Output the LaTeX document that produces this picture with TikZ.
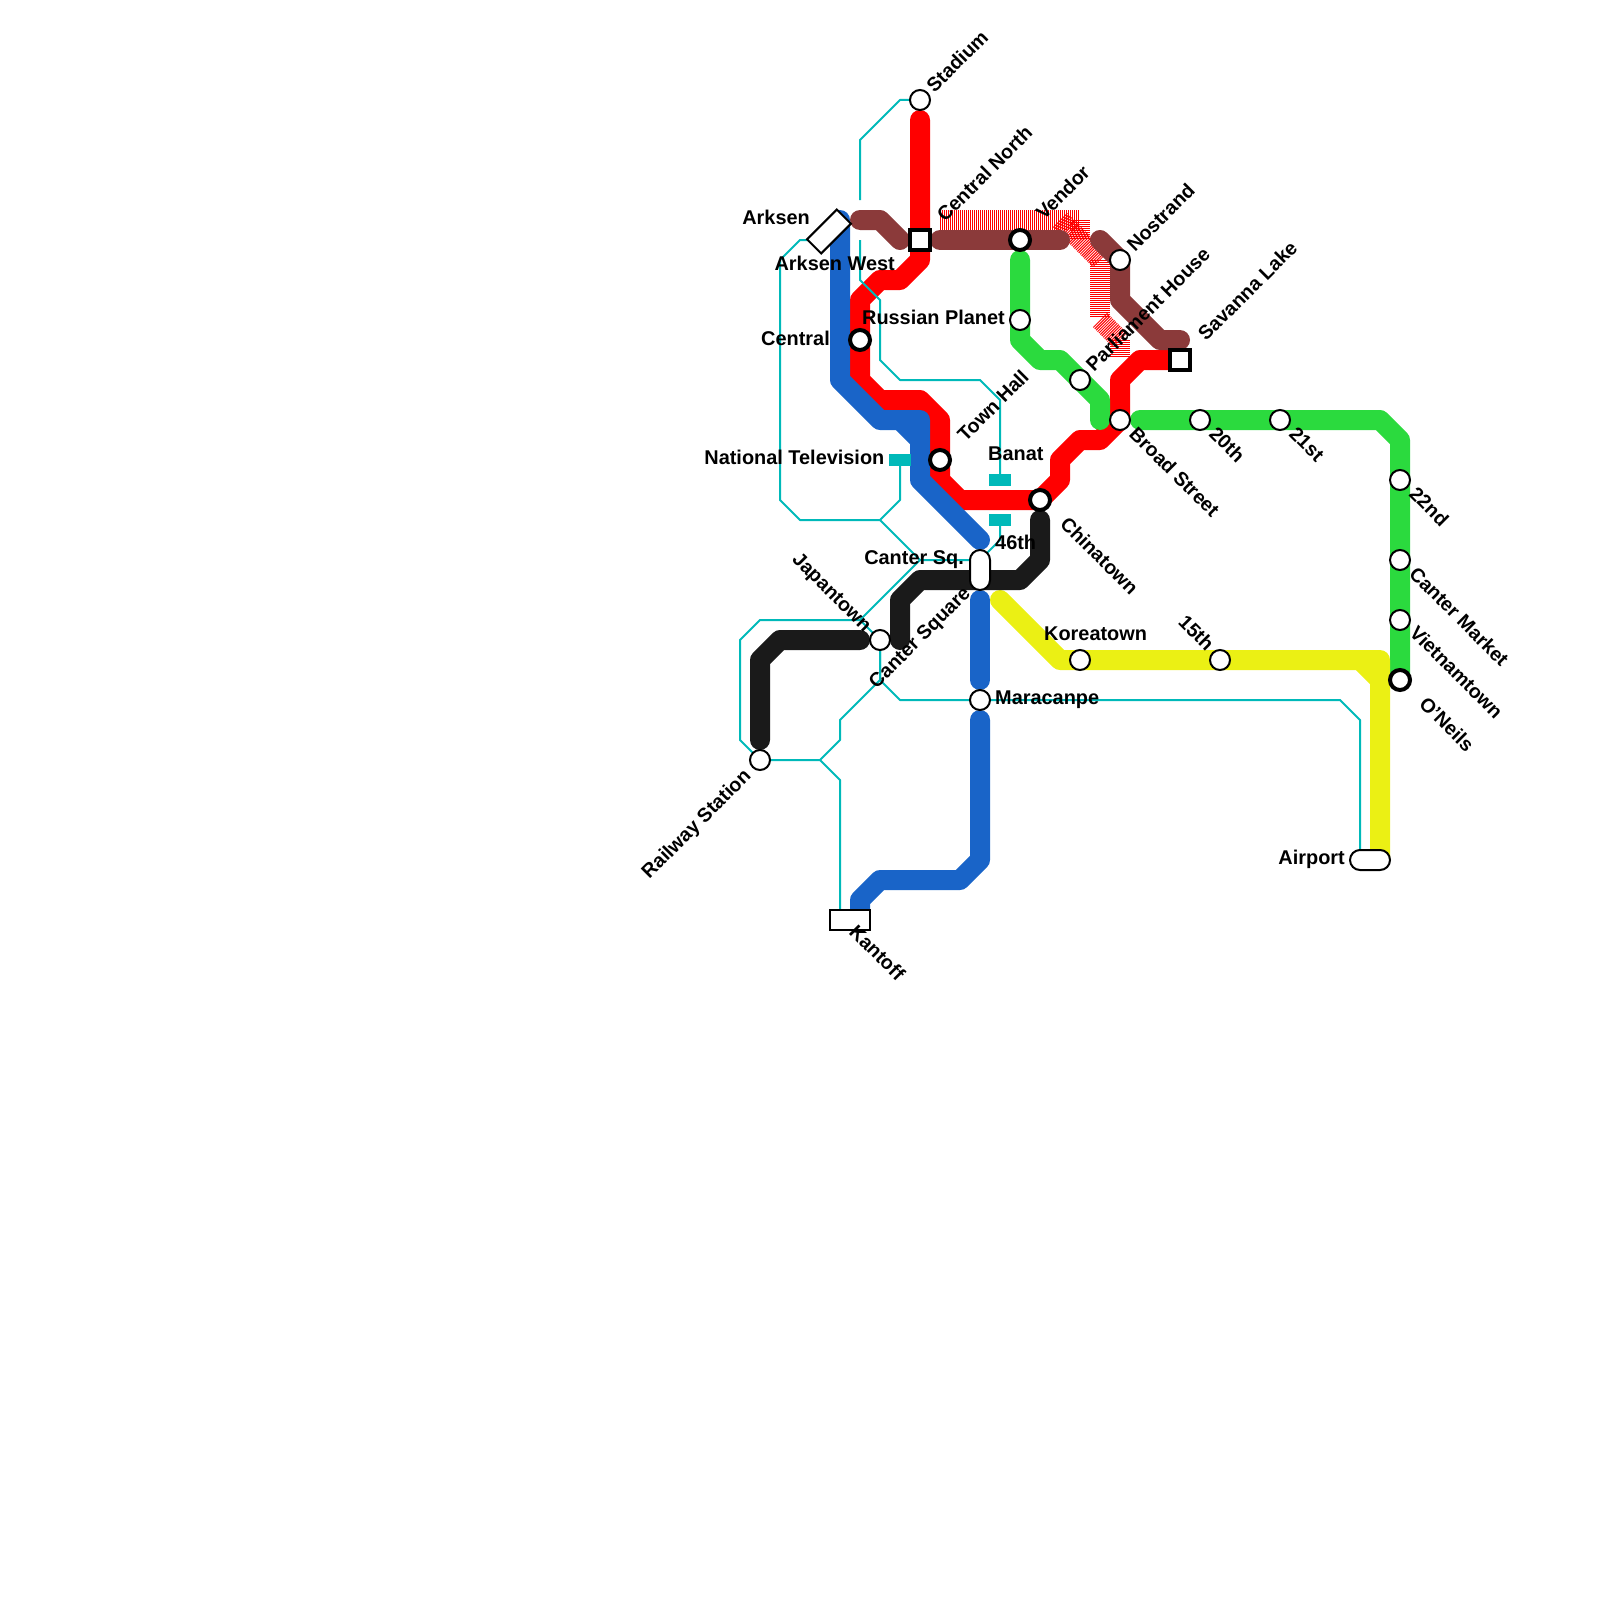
\documentclass[tikz,border=0pt]{standalone}
\usepackage{fontspec}
\setmainfont{Liberation Sans}
\definecolor{mred}{HTML}{FF0000}
\definecolor{mblue}{HTML}{1964C8}
\definecolor{mgreen}{HTML}{2BDA3E}
\definecolor{mbrown}{HTML}{8B3A3A}
\definecolor{myellow}{HTML}{EBF014}
\definecolor{mblack}{HTML}{1A1A1A}
\definecolor{mteal}{HTML}{00B9B9}
\pgfdeclarelayer{lines}
\pgfsetlayers{lines,main}
\tikzset{
  stn/.style={circle,draw=black,fill=white,line width=2pt,minimum size=20pt,inner sep=0pt},
  stnx/.style={stn,line width=4pt},
  sqr/.style={rectangle,draw=black,fill=white,line width=4pt,minimum size=20pt,inner sep=0pt},
  pill/.style={rectangle,draw=black,fill=white,line width=2pt,rounded corners=10pt,inner sep=0pt},
  box/.style={rectangle,draw=black,fill=white,line width=2pt,inner sep=0pt,minimum width=40pt,minimum height=20pt},
  tick/.style={rectangle,fill=mteal,inner sep=0pt,minimum width=22pt,minimum height=12pt},
  lbl/.style={inner sep=0pt,font=\bfseries\fontsize{19.9}{24}\selectfont},
  rlbl/.style={inner sep=0pt,font=\bfseries\fontsize{19.6}{24}\selectfont},
  up/.style={rlbl,rotate=45,anchor=base west},
  upend/.style={rlbl,rotate=45,anchor=base east},
  dn/.style={rlbl,rotate=-45,anchor=base west},
  dnend/.style={rlbl,rotate=-45,anchor=base east},
  hr/.style={lbl,anchor=base east},
  hl/.style={lbl,anchor=base west},
  thick line/.style={line width=20pt,line cap=round,line join=round},
  thin line/.style={line width=2pt,draw=mteal,line join=round},
  stripes/.style={line width=20pt,draw=mred,dash pattern=on 1pt off 1pt},
}
\begin{document}
\begin{tikzpicture}[x=1pt,y=-1pt]
\useasboundingbox (0,0) rectangle (1600,1600);
% stations
\node[stn] (stadium) at (920,100) {};
\node[sqr] (cnorth) at (920,240) {};
\node[stnx] (vendor) at (1020,240) {};
\node[stn] (nostrand) at (1120,260) {};
\node[sqr] (savanna) at (1180,360) {};
\node[stn] (parliament) at (1080,380) {};
\node[stn] (russian) at (1020,320) {};
\node[stnx] (central) at (860,340) {};
\node[stnx] (townhall) at (940,460) {};
\node[stnx] (chinatown) at (1040,500) {};
\node[stn] (broad) at (1120,420) {};
\node[stn] (s20) at (1200,420) {};
\node[stn] (s21) at (1280,420) {};
\node[stn] (s22) at (1400,480) {};
\node[stn] (cmarket) at (1400,560) {};
\node[stn] (vietnam) at (1400,620) {};
\node[stnx] (oneils) at (1400,680) {};
\node[stn] (korea) at (1080,660) {};
\node[stn] (s15) at (1220,660) {};
\node[stn] (maracanpe) at (980,700) {};
\node[stn] (japan) at (880,640) {};
\node[stn] (railway) at (760,760) {};
\node[pill,minimum width=20pt,minimum height=40pt] (cantersq) at (980,570) {};
\node[pill,minimum width=40pt,minimum height=20pt] (airport) at (1370,860) {};
\node[box] (kantoff) at (850,920) {};
\node[box,rotate=45,minimum width=42pt] (arksen) at (829,231.5) {};
\node[tick] (natv) at (900,460) {};
\node[tick] (banat) at (1000,480) {};
\node[tick] (s46) at (1000,520) {};
% labels
\node[up] (l1) at (934.5,93.5) {Stadium};
\node[up] (l2) at (945,223) {Central North};
\node[up] (l3) at (1044,221) {Vendor};
\node[up] (l4) at (1135,253) {Nostrand};
\node[up] (l5) at (1094,373) {Parliament House};
\node[up] (l6) at (1206,342) {Savanna Lake};
\node[up] (l7) at (965.5,443) {Town Hall};
\node[up] (l8) at (876.5,689.5) {Canter Square};
\node[upend] (l9) at (752,777) {Railway Station};
\node[dn] (l10) at (1128,435) {Broad Street};
\node[dn] (l11) at (1059,525) {Chinatown};
\node[dn] (l12) at (1208,435) {20th};
\node[dn] (l13) at (1288,435) {21st};
\node[dn] (l14) at (1408,495) {22nd};
\node[dn] (l15) at (1408,575) {Canter Market};
\node[dn] (l16) at (1408.5,634) {Vietnamtown};
\node[dn] (l17) at (1418,705) {O'Neils};
\node[dn] (l18) at (848,933) {Kantoff};
\node[dnend] (l19) at (864,633) {Japantown};
\node[dnend] (l20) at (1206,652) {15th};
\node[hr] (l21) at (810,224) {Arksen};
\node[hr] (l22) at (895,270) {Arksen West};
\node[hr] (l23) at (1005,324) {Russian Planet};
\node[hr] (l24) at (830,345) {Central};
\node[hr] (l25) at (884.5,464) {National Television};
\node[hl] (l26) at (988,460) {Banat};
\node[hl] (l27) at (995,549) {46th};
\node[hr] (l28) at (964,564) {Canter Sq.};
\node[hl] (l29) at (995,704) {Maracanpe};
\node[hl] (l30) at (1044,640) {Koreatown};
\node[hr] (l31) at (1345,864) {Airport};
% lines
\begin{pgfonlayer}{lines}
% striped line
\draw[stripes] (940,220) -- (1080,220);
\draw[stripes] (1080,220) -- (1080,240);
\draw[stripes] (1060,220) -- (1100,260);
\draw[stripes] (1100,260) -- (1100,318);
\draw[stripes] (1100,320) -- (1120,340);
\draw[stripes] (1120,340) -- (1120,358);
% red
\draw[thick line,draw=mred] (920,120) -- (cnorth.center) -- (920,260) -- (900,280) -- (880,280) -- (860,300) -- (central.center) -- (860,380) -- (880,400) -- (920,400) -- (940,420) -- (townhall.center) -- (940,480) -- (960,500) -- (chinatown.center) -- (1060,480) -- (1060,460) -- (1080,440) -- (1100,440) -- (broad.center) -- (1120,380) -- (1140,360) -- (savanna.center);
% brown
\draw[thick line,draw=mbrown] (860,220) -- (880,220) -- (900,240);
\draw[thick line,draw=mbrown] (940,240) -- (vendor.center) -- (1060,240);
\draw[thick line,draw=mbrown] (1100,240) -- (nostrand.center) -- (1120,300) -- (1160,340) -- (1180,340);
% green
\draw[thick line,draw=mgreen] (1020,260) -- (russian.center) -- (1020,340) -- (1040,360) -- (1060,360) -- (parliament.center) -- (1100,400) -- (1100,420);
\draw[thick line,draw=mgreen] (1140,420) -- (s20.center) -- (s21.center) -- (1380,420) -- (1400,440) -- (s22.center) -- (cmarket.center) -- (vietnam.center) -- (oneils.center);
% yellow
\draw[thick line,draw=myellow] (1000,600) -- (1060,660) -- (korea.center) -- (s15.center) -- (1380,660) -- (1380,860);
\draw[thick line,draw=myellow] (1360,660) -- (1380,680);
% black
\draw[thick line,draw=mblack] (760,740) -- (760,660) -- (780,640) -- (860,640);
\draw[thick line,draw=mblack] (900,640) -- (900,600) -- (920,580) -- (1020,580) -- (1040,560) -- (1040,520);
% blue
\draw[thick line,draw=mblue] (840,220) -- (840,380) -- (880,420) -- (920,420) -- (920,480) -- (980,540);
\draw[thick line,draw=mblue] (900,420) -- (920,440);
\draw[thick line,draw=mblue] (980,600) -- (980,680);
\draw[thick line,draw=mblue] (980,720) -- (980,860) -- (960,880) -- (880,880) -- (860,900) -- (860,920);
% thin lines
\draw[thin line] (stadium.center) -- (900,100) -- (860,140) -- (860,200);
\draw[thin line] (860,240) -- (860,280) -- (880,300) -- (880,360) -- (900,380) -- (980,380) -- (1000,400) -- (banat.center);
\draw[thin line] (810,240) -- (800,240) -- (780,260) -- (780,500) -- (800,520) -- (880,520) -- (900,500) -- (natv.center);
\draw[thin line] (880,520) -- (920,560) -- (975,560);
\draw[thin line] (s46.center) -- (1000,540) -- (980,560);
\draw[thin line] (920,560) -- (860,620) -- (760,620) -- (740,640) -- (740,740) -- (railway.center) -- (820,760) -- (840,740) -- (840,720) -- (880,680) -- (japan.center) -- (860,620);
\draw[thin line] (japan.center) -- (880,680) -- (900,700) -- (maracanpe.center) -- (1340,700) -- (1360,720) -- (1360,860);
\draw[thin line] (820,760) -- (840,780) -- (840,920);
\end{pgfonlayer}
\end{tikzpicture}
\end{document}
